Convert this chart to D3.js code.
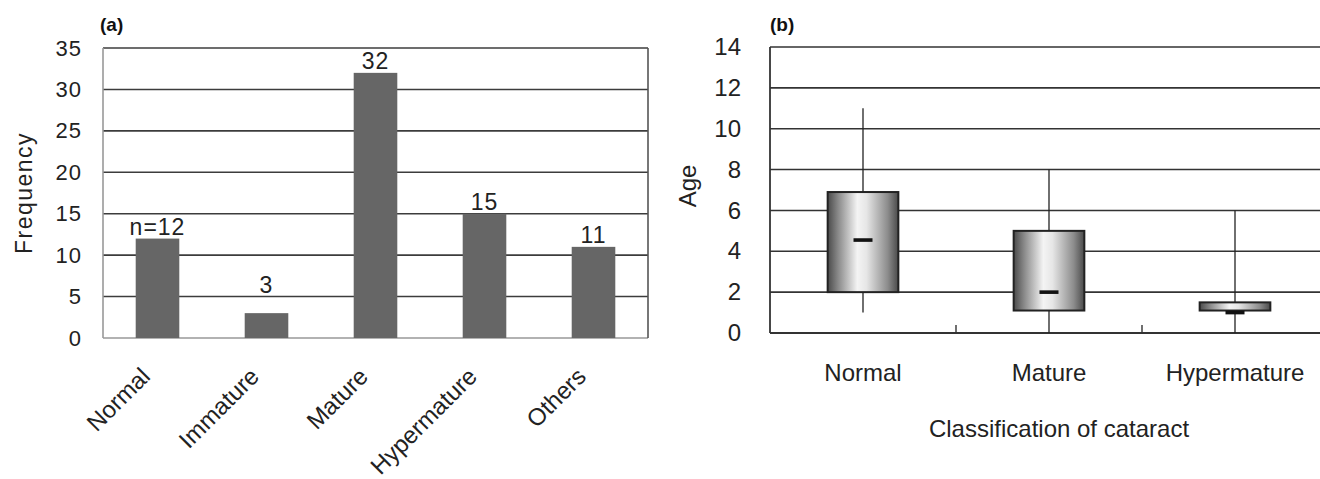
<!DOCTYPE html>
<html lang="en">
<head>
  <meta charset="UTF-8">
  <title>cataract</title>
  <style>
    body { margin: 0; background: #fff; }
    svg { display: block; font-family: "Liberation Sans", Arial, sans-serif; }
  </style>
</head>
<body>
  <div id="main"></div>
  <script src="https://d3js.org/d3.v7.min.js"></script>
  <script>
    // (a) frequency per class
    const barCats = ['Normal', 'Immature', 'Mature', 'Hypermature', 'Others']
    const barValues = [12, 3, 32, 15, 11]
    const barLabels = ['n=12', '3', '32', '15', '11']
    const freqTicks = [0, 5, 10, 15, 20, 25, 30, 35]

    // (b) age by class (box plot)
    const boxCats = ['Normal', 'Mature', 'Hypermature']
    const boxMin = [1, 0, 0]
    const boxQ1 = [2, 1.1, 1.1]
    const boxMedian = [4.55, 2, 1]
    const boxQ3 = [6.9, 5, 1.5]
    const boxMax = [11, 8, 6]
    const ageTicks = [0, 2, 4, 6, 8, 10, 12, 14]

    const [width, height] = [1320, 479]
    const svg = d3.select('#main').append('svg')
      .attr('width', width)
      .attr('height', height)

    // ---------- panel (a) ----------
    const a = { left: 103, right: 648, top: 48, bottom: 338 }
    const xA = d3.scaleBand().domain(barCats).range([a.left, a.right])
      .paddingInner(0.6).paddingOuter(0.3)
    const yA = d3.scaleLinear().domain([0, 35]).range([a.bottom, a.top])
    const gA = svg.append('g')

    gA.selectAll('line.grid').data(freqTicks.filter(d => d > 0)).join('line')
      .attr('class', 'grid')
      .attr('x1', a.left).attr('x2', a.right)
      .attr('y1', d => yA(d)).attr('y2', d => yA(d))
      .attr('stroke', '#3c3c3c').attr('stroke-width', 1.6)
    // frame
    gA.append('line').attr('x1', a.left).attr('x2', a.left).attr('y1', a.top).attr('y2', a.bottom)
      .attr('stroke', '#999').attr('stroke-width', 1.6)
    gA.append('line').attr('x1', a.left).attr('x2', a.right).attr('y1', a.bottom).attr('y2', a.bottom)
      .attr('stroke', '#999').attr('stroke-width', 1.6)
    gA.append('line').attr('x1', a.right).attr('x2', a.right).attr('y1', a.top).attr('y2', a.bottom)
      .attr('stroke', '#555').attr('stroke-width', 1.6)

    gA.selectAll('rect.bar').data(barCats).join('rect')
      .attr('class', 'bar')
      .attr('x', d => xA(d))
      .attr('width', xA.bandwidth())
      .attr('y', (d, i) => yA(barValues[i]))
      .attr('height', (d, i) => a.bottom - yA(barValues[i]))
      .attr('fill', '#666')

    gA.selectAll('text.val').data(barCats).join('text')
      .attr('class', 'val')
      .attr('x', d => xA(d) + xA.bandwidth() / 2)
      .attr('y', (d, i) => Math.min(yA(barValues[i]), yA(5)) - 4)
      .attr('text-anchor', 'middle')
      .style('font-size', '23px').style('letter-spacing', '1px').attr('fill', '#222')
      .text((d, i) => barLabels[i])

    const axA = gA.append('g')
      .attr('transform', `translate(${a.left}, 0)`)
      .call(d3.axisLeft(yA).tickValues(freqTicks).tickSize(0).tickPadding(21))
    axA.select('.domain').remove()
    axA.selectAll('text').style('font-size', '22px').style('letter-spacing', '1px')
      .attr('fill', '#222').attr('font-family', null)

    gA.selectAll('text.cat').data(barCats).join('text')
      .attr('class', 'cat')
      .attr('transform', d => `translate(${xA(d) + xA.bandwidth() / 2 - 6}, 378) rotate(-45)`)
      .attr('text-anchor', 'end')
      .style('font-size', '24px').attr('fill', '#222')
      .text(d => d)

    gA.append('text')
      .attr('transform', 'translate(32, 193) rotate(-90)')
      .attr('text-anchor', 'middle')
      .style('font-size', '23px').style('letter-spacing', '1.5px').attr('fill', '#222')
      .text('Frequency')

    gA.append('text').attr('x', 100).attr('y', 31)
      .style('font-size', '19px').style('font-weight', 'bold').attr('fill', '#111')
      .text('(a)')

    // ---------- panel (b) ----------
    const b = { left: 770, right: 1328, top: 47, bottom: 333 }
    const xB = d3.scaleBand().domain(boxCats).range([b.left, b.right])
    const yB = d3.scaleLinear().domain([0, 14]).range([b.bottom, b.top])
    const boxW = xB.bandwidth() * 0.38
    const gB = svg.append('g')

    const grad = svg.append('defs').append('linearGradient')
      .attr('id', 'cyl').attr('x1', 0).attr('x2', 1).attr('y1', 0).attr('y2', 0)
    grad.selectAll('stop').data([
      [0, '#4a4a4a'], [0.15, '#8a8a8a'], [0.42, '#f4f4f4'], [0.55, '#e6e6e6'], [0.85, '#8c8c8c'], [1, '#4a4a4a']
    ]).join('stop').attr('offset', d => d[0]).attr('stop-color', d => d[1])

    gB.selectAll('line.grid').data(ageTicks.filter(d => d > 0)).join('line')
      .attr('class', 'grid')
      .attr('x1', b.left).attr('x2', b.right)
      .attr('y1', d => yB(d)).attr('y2', d => yB(d))
      .attr('stroke', '#333').attr('stroke-width', 1.6)
    gB.append('line').attr('x1', b.left).attr('x2', b.left).attr('y1', b.top).attr('y2', b.bottom)
      .attr('stroke', '#333').attr('stroke-width', 1.8)
    gB.append('line').attr('x1', b.left).attr('x2', b.right).attr('y1', b.bottom).attr('y2', b.bottom)
      .attr('stroke', '#333').attr('stroke-width', 1.8)
    gB.selectAll('line.tick').data(boxCats.slice(1)).join('line')
      .attr('class', 'tick')
      .attr('x1', d => xB(d)).attr('x2', d => xB(d))
      .attr('y1', b.bottom).attr('y2', b.bottom - 8)
      .attr('stroke', '#333').attr('stroke-width', 1.4)

    const cx = d => xB(d) + xB.bandwidth() / 2
    gB.selectAll('line.whisk').data(boxCats).join('line')
      .attr('class', 'whisk')
      .attr('x1', cx).attr('x2', cx)
      .attr('y1', (d, i) => yB(boxMin[i])).attr('y2', (d, i) => yB(boxMax[i]))
      .attr('stroke', '#222').attr('stroke-width', 1.3)
    gB.selectAll('rect.box').data(boxCats).join('rect')
      .attr('class', 'box')
      .attr('x', d => cx(d) - boxW / 2).attr('width', boxW)
      .attr('y', (d, i) => yB(boxQ3[i]))
      .attr('height', (d, i) => yB(boxQ1[i]) - yB(boxQ3[i]))
      .attr('fill', 'url(#cyl)').attr('stroke', '#222').attr('stroke-width', 2)
    gB.selectAll('rect.med').data(boxCats).join('rect')
      .attr('class', 'med')
      .attr('x', d => cx(d) - 9.5).attr('width', 19)
      .attr('y', (d, i) => yB(boxMedian[i]) - 1.8).attr('height', 3.6)
      .attr('fill', '#111')

    const axB = gB.append('g')
      .attr('transform', `translate(${b.left}, 0)`)
      .call(d3.axisLeft(yB).tickValues(ageTicks).tickSize(0).tickPadding(29))
    axB.select('.domain').remove()
    axB.selectAll('text').style('font-size', '24px').attr('fill', '#222').attr('font-family', null)

    gB.selectAll('text.cat').data(boxCats).join('text')
      .attr('class', 'cat')
      .attr('x', cx).attr('y', 381)
      .attr('text-anchor', 'middle')
      .style('font-size', '24px').attr('fill', '#222')
      .text(d => d)

    gB.append('text').attr('x', 1059).attr('y', 437)
      .attr('text-anchor', 'middle')
      .style('font-size', '24px').attr('fill', '#222')
      .text('Classification of cataract')

    gB.append('text')
      .attr('transform', 'translate(696, 186) rotate(-90)')
      .attr('text-anchor', 'middle')
      .style('font-size', '24px').attr('fill', '#222')
      .text('Age')

    gB.append('text').attr('x', 770).attr('y', 31)
      .style('font-size', '19px').style('font-weight', 'bold').attr('fill', '#111')
      .text('(b)')
  </script>
</body>
</html>
